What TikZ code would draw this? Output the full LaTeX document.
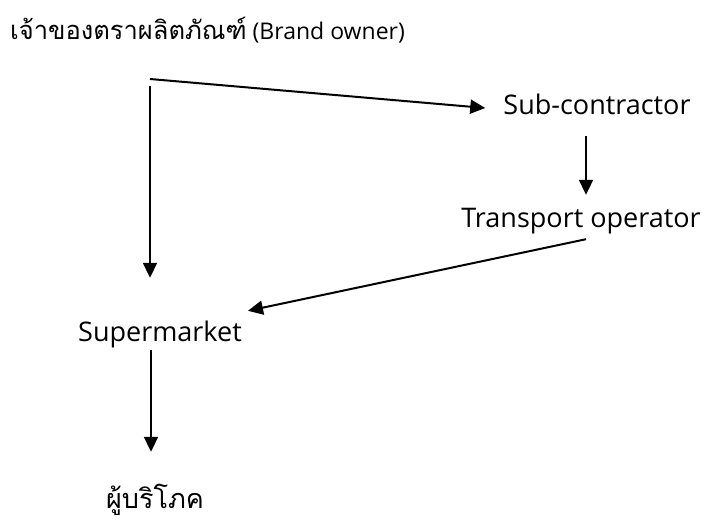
\documentclass[tikz,border=0pt]{standalone}
\usepackage{fontspec}
\setmainfont{Open Sans}
\newfontfamily\thai[Script=Thai]{Loma}
\usetikzlibrary{arrows.meta}
\begin{document}
\begin{tikzpicture}[x=1pt,y=1pt,
  lbl/.style={inner sep=0pt, anchor=base, text height=20pt, text depth=6pt, font=\fontsize{27}{30}\selectfont},
  arr/.style={line width=2pt, -{Triangle[length=15pt,width=14pt]}}]
\useasboundingbox (0,0) rectangle (706,-519);
\node[lbl, anchor=base west] (brand) at (10,-40) {{\thai\fontsize{25.5}{30}\selectfont เจ้าของตราผลิตภัณฑ์}\fontsize{23}{30}\selectfont\ (Brand owner)};
\node[lbl] (sub) at (597,-114) {Sub-contractor};
\node[lbl] (trans) at (581,-227) {Transport operator};
\node[lbl] (super) at (160,-341) {Supermarket};
\node[lbl] (cons) at (155,-508) {\thai ผู้บริโภค};
\coordinate (a1) at (150,-79);
\coordinate (a2) at (150,-86);
\draw[arr] (a1) -- ([shift={(-18pt,-1pt)}]sub.west);
\draw[arr] (a2) -- (a2 |- super.north) [shorten >=43pt];
\draw[arr] ([shift={(-11pt,-16pt)}]sub.south) -- ([shift={(5pt,12pt)}]trans.north);
\draw[arr] ([shift={(5pt,-6pt)}]trans.south) -- ([shift={(6pt,10pt)}]super.north east);
\draw[arr] ([shift={(-9pt,-3pt)}]super.south) -- ([shift={(-4pt,36pt)}]cons.north);
\end{tikzpicture}
\end{document}
